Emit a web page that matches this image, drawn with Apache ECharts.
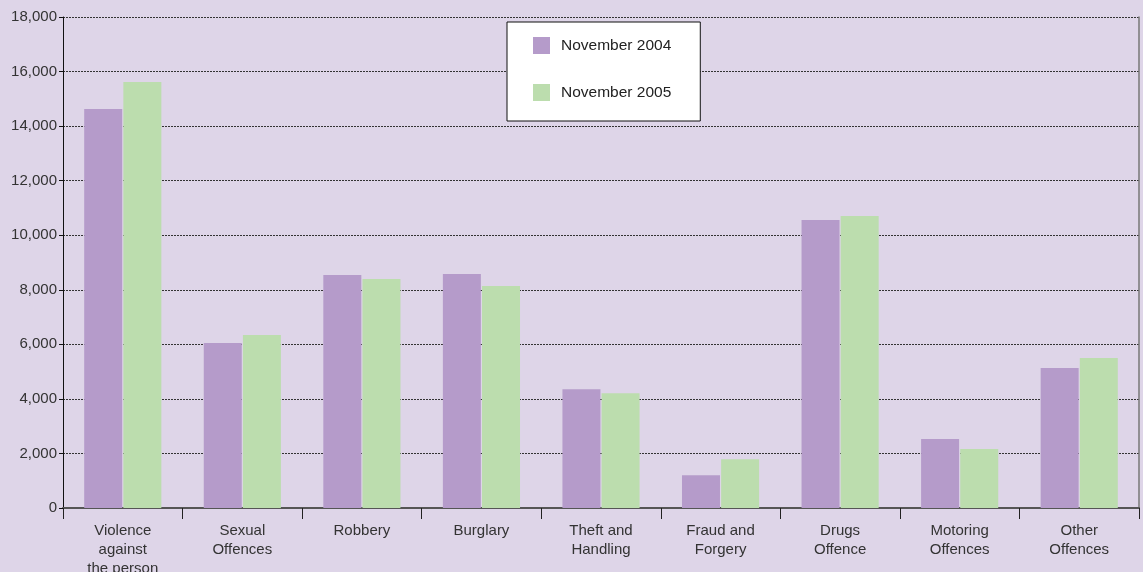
<!DOCTYPE html>
<html>
<head>
<meta charset="utf-8">
<script src="https://cdn.jsdelivr.net/npm/echarts@6/dist/echarts.min.js"></script>
<style>
html,body{margin:0;padding:0;background:#DED5E8;}
#chart{width:1143px;height:572px;}
</style>
</head>
<body>
<div id="chart"></div>
<script>
const categories = ["Violence\nagainst\nthe person","Sexual\nOffences","Robbery","Burglary","Theft and\nHandling","Fraud and\nForgery","Drugs\nOffence","Motoring\nOffences","Other\nOffences"];
const seriesNames = ["November 2004","November 2005"];
const nov2004 = [14630, 6050, 8540, 8575, 4355, 1200, 10560, 2530, 5130];
const nov2005 = [15620, 6340, 8395, 8135, 4210, 1790, 10705, 2160, 5495];
const yTicks = {min: 0, max: 18000, interval: 2000};

const font = "'Liberation Sans', Arial, sans-serif";
const chart = echarts.init(document.getElementById('chart'));
chart.setOption({
  backgroundColor: '#DED5E8',
  animation: false,
  textStyle: {fontFamily: font},
  grid: {left: 63, right: 4, top: 17, bottom: 64, containLabel: false, outerBoundsMode: 'none'},
  legend: {
    data: seriesNames,
    orient: 'vertical',
    left: 507, top: 22,
    backgroundColor: '#ffffff',
    borderColor: '#111',
    borderWidth: 1,
    padding: [15, 29, 20, 26],
    itemWidth: 17, itemHeight: 17,
    itemGap: 30,
    icon: 'rect',
    textStyle: {fontFamily: font, fontSize: 15.5, color: '#222', padding: [0,0,0,6]}
  },
  xAxis: {
    type: 'category',
    data: categories,
    axisLine: {lineStyle: {color: '#555', width: 2}},
    axisTick: {show: true, length: 11, lineStyle: {color: '#222', width: 1}},
    axisLabel: {fontFamily: font, fontSize: 15, color: '#333', margin: 13, lineHeight: 19, interval: 0}
  },
  yAxis: [{
    type: 'value',
    min: yTicks.min, max: yTicks.max, interval: yTicks.interval,
    axisLine: {show: true, lineStyle: {color: '#111', width: 1}},
    axisTick: {show: true, length: 4, lineStyle: {color: '#111'}},
    axisLabel: {fontFamily: font, fontSize: 15, color: '#333', margin: 6,
      formatter: v => v.toLocaleString('en-US')},
    splitLine: {show: true, lineStyle: {color: '#333', width: 1, type: [2, 1]}}
  }, {
    type: 'value',
    position: 'right',
    min: yTicks.min, max: yTicks.max, interval: yTicks.interval,
    axisLine: {show: true, lineStyle: {color: '#777', width: 1.5}},
    axisTick: {show: false},
    axisLabel: {show: false},
    splitLine: {show: false}
  }],
  series: [{
    name: seriesNames[0],
    type: 'bar',
    data: nov2004,
    barWidth: 38,
    barGap: '3%',
    itemStyle: {color: '#B59BCA'}
  }, {
    name: seriesNames[1],
    type: 'bar',
    data: nov2005,
    barWidth: 38,
    barGap: '3%',
    itemStyle: {color: '#BCDDAE'}
  }]
});
</script>
</body>
</html>
